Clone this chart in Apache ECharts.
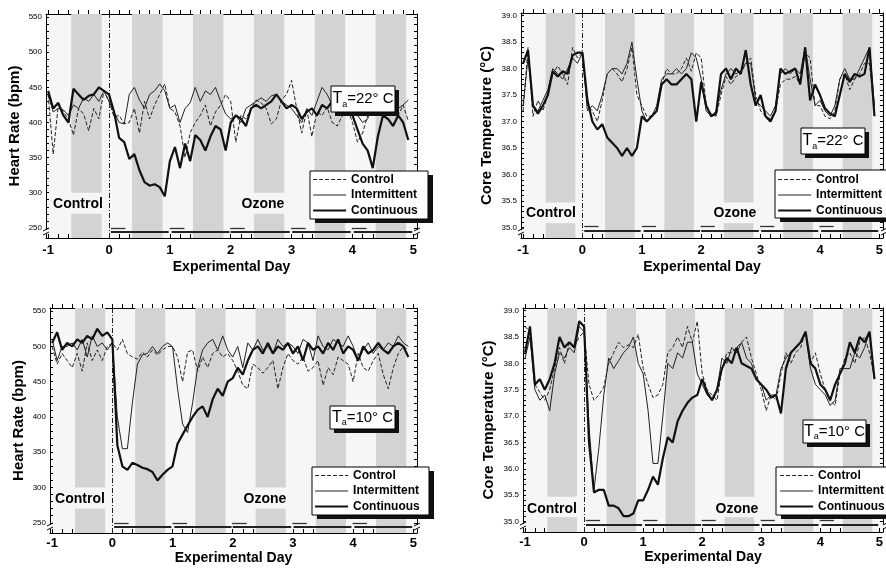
<!DOCTYPE html>
<html>
<head>
<meta charset="utf-8">
<script src="https://cdn.jsdelivr.net/npm/echarts@6/dist/echarts.min.js"></script>
<style>
html, body { margin: 0; background: #fff; }
#chart { width: 886px; height: 571px; }
</style>
</head>
<body>
<div id="chart"></div>
<script>
var font = 'Liberation Sans, Arial, Helvetica, sans-serif';

// sample times: every 2 hours from day -1
var times = [];
for (var i = 0; i < 72; i++) times.push(-1 + i / 12);

// dark periods, exposure periods
var nightStarts = [-0.62, 0.38, 1.38, 2.38, 3.38, 4.38];
var nightLength = 0.5;
var pulseStarts = [0.03, 1.0, 1.99, 2.99, 3.99];
var pulseLength = 0.24;
var continuousRuns = [[0.03, 0.98], [1.03, 1.98], [2.0, 2.97], [3.01, 3.97], [4.02, 4.98]];

var dayLabels = [-1, 0, 1, 2, 3, 4, 5];
var hrLabels = [250, 300, 350, 400, 450, 500, 550];
var tempLabels = [35.0, 35.5, 36.0, 36.5, 37.0, 37.5, 38.0, 38.5, 39.0];

// heart rate, Ta = 22 C
var hr22Control = [
  440, 355, 425, 415, 405, 382, 420, 412, 388, 420, 405, 445,
  430, 408, 410, 398, 400, 420, 385, 430, 405, 425, 440, 455,
  420, 415, 395, 350, 385, 400, 410, 425, 395, 415, 425, 440,
  430, 372, 410, 405, 420, 432, 428, 420, 398, 405, 432, 440,
  460, 420, 385, 418, 380, 415, 410, 422, 400, 395, 410, 420,
  400, 372, 385, 410, 420, 430, 415, 440, 420, 410, 425, 402];
var hr22Inter = [
  440, 415, 420, 418, 410, 425, 420, 435, 430, 440, 430, 445,
  430, 415, 400, 398, 440, 450, 432, 420, 440, 445, 455, 445,
  420, 425, 400, 420, 428, 450, 430, 445, 440, 450, 430, 412,
  405, 410, 400, 420, 425, 430, 435, 430, 438, 440, 430, 425,
  420, 410, 400, 420, 410, 430, 450, 440, 425, 420, 445, 415,
  420, 410, 400, 405, 435, 430, 420, 450, 430, 420, 425, 432];
var hr22Cont = [
  445, 420, 428, 410, 400, 448, 440, 432, 438, 440, 450, 445,
  440, 415, 378, 372, 348, 355, 332, 315, 310, 312, 308, 295,
  345, 365, 335, 370, 345, 382, 375, 360, 380, 395, 390, 360,
  400, 410, 405, 395, 420, 425, 420, 425, 430, 440, 430, 420,
  425, 420, 405, 415, 420, 410, 425, 420, 430, 415, 410, 420,
  410, 390, 370, 360, 335, 380, 410, 405, 395, 410, 400, 375];

// core temperature, Ta = 22 C
var t22Control = [
  37.2, 38.4, 37.1, 37.4, 37.2, 37.5, 37.9, 38.05, 37.9, 37.7, 38.4, 38.2,
  38.3, 37.3, 37.2, 37.0, 37.4, 37.9, 38.0, 37.9, 37.75, 38.0, 38.4, 37.5,
  37.3, 37.1, 37.1, 37.2, 37.7, 38.0, 37.9, 37.9, 38.0, 38.2, 37.95, 38.3,
  38.2, 37.3, 37.15, 37.1, 37.5, 37.85, 37.7, 37.85, 37.9, 38.1, 38.2, 37.5,
  37.2, 37.1, 37.05, 37.2, 37.7, 37.8, 37.8, 37.85, 37.7, 38.3, 38.2, 37.3,
  37.3, 37.1, 37.05, 37.2, 37.8, 37.9, 37.6, 37.8, 37.9, 38.1, 38.1, 37.2];
var t22Inter = [
  37.3, 38.2, 37.3, 37.2, 37.4, 37.6, 38.0, 37.9, 37.8, 38.0, 38.2, 38.1,
  38.3, 37.2, 37.3, 37.2, 37.5, 37.9, 38.0, 38.0, 37.9, 38.1, 38.5, 37.8,
  37.2, 37.0, 37.1, 37.3, 37.8, 37.9, 37.9, 38.0, 37.9, 38.0, 38.3, 38.2,
  37.8, 37.2, 37.1, 37.2, 37.6, 37.9, 38.0, 37.9, 37.95, 38.1, 38.1, 37.4,
  37.3, 37.2, 37.1, 37.3, 37.9, 38.0, 37.9, 38.0, 37.9, 38.4, 37.8, 37.3,
  37.4, 37.2, 37.1, 37.3, 37.8, 38.0, 37.8, 37.8, 38.0, 38.2, 38.4, 37.3];
var t22Cont = [
  38.1, 38.35, 37.3, 37.15, 37.3, 37.5, 37.95, 37.85, 37.95, 37.9, 38.25, 38.3,
  38.3, 37.4, 37.0, 36.85, 36.95, 36.7, 36.6, 36.5, 36.35, 36.5, 36.35, 36.5,
  37.1, 37.0, 37.1, 37.2, 37.7, 37.8, 37.7, 37.7, 37.8, 37.9, 37.8, 37.0,
  37.75, 37.3, 37.1, 37.15, 37.9, 38.0, 37.8, 38.0, 37.9, 38.35, 37.7, 37.3,
  37.5, 37.1, 37.0, 37.2, 38.0, 37.9, 37.95, 38.0, 37.7, 38.4, 37.4, 37.7,
  37.5, 37.25, 37.15, 37.1, 37.5, 37.9, 37.75, 37.9, 37.85, 37.9, 38.4, 37.1];

// heart rate, Ta = 10 C
var hr10Control = [
  500, 475, 490, 480, 470, 490, 465, 505, 480, 495, 480, 500,
  505, 495, 510, 490, 485, 482, 492, 485, 495, 488, 495, 500,
  500, 485, 450, 492, 495, 465, 485, 470, 490, 495, 485, 490,
  480, 465, 445, 440, 475, 470, 462, 470, 480, 440, 470, 490,
  480, 475, 485, 465, 470, 480, 445, 470, 460, 485, 480, 475,
  450, 490, 470, 465, 480, 490, 460, 440, 470, 490, 500, 495];
var hr10Inter = [
  510, 480, 500, 500, 505, 495, 510, 485, 515, 500, 505, 495,
  505, 400, 355, 355, 420, 475, 488, 490, 500, 490, 500, 505,
  500, 440, 390, 378, 420, 470, 495, 505, 510, 495, 515, 495,
  485, 500, 470, 505, 495, 510, 495, 500, 490, 510, 500, 505,
  500, 490, 510, 505, 480, 515, 500, 495, 510, 505, 500, 515,
  500, 480, 495, 505, 490, 500, 495, 505, 500, 515, 505, 500];
var hr10Cont = [
  505, 520, 495, 505, 500, 510, 505, 515, 510, 525, 515, 520,
  510, 360, 330, 325, 335, 332, 328, 326, 322, 310, 318, 325,
  330, 362, 375, 388, 400, 410, 415, 400, 425, 440, 430, 450,
  455, 470, 460, 480, 495, 500, 490, 505, 490, 500, 495, 505,
  490, 500, 480, 505, 495, 500, 490, 505, 495, 510, 490, 500,
  495, 480, 500, 490, 495, 505, 495, 490, 500, 505, 500, 485];

// core temperature, Ta = 10 C
var t10Control = [
  38.7, 38.6, 37.6, 37.45, 37.3, 37.5, 37.9, 38.3, 38.0, 38.4, 38.3, 38.5,
  38.6, 37.6, 37.3, 37.4, 37.55, 38.0, 38.2, 38.4, 38.3, 38.35, 38.3, 38.55,
  37.9, 37.6, 37.35, 37.4, 37.6, 38.2, 38.3, 38.5, 38.3, 38.7, 38.4, 38.8,
  37.8, 37.5, 37.4, 37.3, 37.9, 38.2, 38.2, 38.3, 38.4, 38.5, 38.1, 37.8,
  37.5, 37.1, 37.4, 37.3, 37.8, 38.2, 38.0, 38.2, 38.3, 38.6, 38.0, 38.2,
  37.8, 37.5, 37.3, 37.2, 37.8, 38.1, 38.2, 38.0, 38.4, 38.5, 38.2, 37.7];
var t10Inter = [
  38.1, 38.5, 37.5, 37.3, 37.4, 37.1, 37.8, 38.2, 38.1, 38.3, 38.2, 38.7,
  38.6, 36.8, 35.6, 36.4, 37.4, 38.1, 37.9, 38.05, 38.2, 38.3, 38.5, 38.0,
  37.8, 37.1, 36.1, 36.1, 37.0, 38.0, 37.9, 38.2, 38.1, 38.4, 38.4, 37.8,
  37.6, 37.4, 37.3, 37.5, 38.1, 38.0, 38.3, 38.2, 38.4, 38.1, 38.0, 37.7,
  37.6, 37.3, 37.4, 37.4, 37.9, 38.1, 38.2, 38.3, 38.4, 38.6, 37.9, 37.6,
  37.5, 37.4, 37.2, 37.3, 37.9, 37.9, 37.9, 38.2, 38.1, 38.3, 38.6, 37.7];
var t10Cont = [
  38.2, 38.7, 37.6, 37.7, 37.5, 37.7, 38.0, 38.5, 38.3, 38.4, 38.3, 38.8,
  38.7, 36.5, 35.55, 35.6, 35.6, 35.3, 35.3, 35.25, 35.1, 35.1, 35.15, 35.4,
  35.4, 35.6, 35.85, 35.7, 36.2, 36.6, 36.5, 36.9, 37.1, 37.25, 37.35, 37.4,
  37.7, 37.45, 37.3, 37.5, 37.9, 38.1, 38.0, 38.3, 38.0, 37.95, 37.9, 37.7,
  37.6, 37.5, 37.35, 37.4, 37.05, 37.9, 38.2, 38.3, 38.4, 38.6, 38.0, 37.9,
  37.6, 37.5, 37.3, 37.6, 37.8, 38.0, 38.4, 38.2, 38.5, 38.4, 38.6, 37.7];

var seriesNames = ['Control', 'Intermittent', 'Continuous'];

// layout of the four panels
var panels = [
  { kind: 'hr', ta: '22', values: [hr22Control, hr22Inter, hr22Cont],
    grid: { left: 46, top: 14, width: 371, height: 224 },
    labelMargin: 6, xNameGap: 22, yNameGap: 24,
    taBox: [331, 86, 64, 26], legendBox: [310, 171, 118, 48], legendAt: [312, 173],
    controlText: [78, 204], ozoneText: [263, 204] },
  { kind: 't', ta: '22', values: [t22Control, t22Inter, t22Cont],
    grid: { left: 521, top: 13, width: 363, height: 225 },
    labelMargin: 6, xNameGap: 22, yNameGap: 27,
    taBox: [801, 128, 64, 26], legendBox: [775, 170, 118, 48], legendAt: [777, 173],
    controlText: [551, 213], ozoneText: [735, 213] },
  { kind: 'hr', ta: '10', values: [hr10Control, hr10Inter, hr10Cont],
    grid: { left: 50, top: 308, width: 367, height: 225 },
    labelMargin: 4, xNameGap: 18, yNameGap: 24,
    taBox: [330, 406, 65, 23], legendBox: [312, 467, 117, 48], legendAt: [314, 469],
    controlText: [80, 499], ozoneText: [265, 499] },
  { kind: 't', ta: '10', values: [t10Control, t10Inter, t10Cont],
    grid: { left: 523, top: 308, width: 363, height: 224 },
    labelMargin: 4, xNameGap: 18, yNameGap: 27,
    taBox: [803, 420, 63, 23], legendBox: [776, 467, 118, 48], legendAt: [779, 469],
    controlText: [552, 509], ozoneText: [737, 509] }
];

var ranges = {
  hr: { min: 235.5, max: 554.5, gap: [270, 300], pulse: 250, run: 244, name: 'Heart Rate (bpm)',
        labels: hrLabels, step: 10, from: 250, to: 550, fmt: function (v) { return String(v); } },
  t: { min: 34.8, max: 39.05, gap: [35.08, 35.47], pulse: 35.02, run: 34.93, name: 'Core Temperature (\u00B0C)',
       labels: tempLabels, step: 0.1, from: 35, to: 39, fmt: function (v) { return v.toFixed(1); } }
};

function stepValues(from, to, step) {
  var out = [];
  var n = Math.round((to - from) / step);
  for (var k = 0; k <= n; k++) out.push(+(from + k * step).toFixed(4));
  return out;
}
var dayTicks = stepValues(-1, 5, 1 / 6);

var lineStyles = [
  { color: '#222', width: 1, type: [4, 2] },
  { color: '#222', width: 1, type: 'solid' },
  { color: '#111', width: 2.2, type: 'solid' }
];

var grids = [], xAxes = [], yAxes = [], series = [], legends = [], graphics = [];

panels.forEach(function (p, idx) {
  var r = ranges[p.kind];
  grids.push(Object.assign({ show: true, backgroundColor: '#f6f6f6', borderWidth: 0 }, p.grid));

  var axisLine = { show: true, onZero: false, lineStyle: { color: '#000', width: 1 } };
  xAxes[idx] = {
    type: 'value', gridIndex: idx, min: -1.035, max: 5.06, position: 'bottom',
    axisLine: axisLine, splitLine: { show: false },
    axisTick: { inside: true, length: 4, customValues: dayTicks, lineStyle: { color: '#000' } },
    axisLabel: { customValues: dayLabels, margin: p.labelMargin, color: '#000',
                 fontFamily: font, fontWeight: 'bold', fontSize: 13 },
    name: 'Experimental Day', nameLocation: 'middle', nameGap: p.xNameGap,
    nameTextStyle: { fontFamily: font, fontWeight: 'bold', fontSize: 14, color: '#000' }
  };
  xAxes[idx + 4] = {
    type: 'value', gridIndex: idx, min: -1.035, max: 5.06, position: 'top',
    axisLine: axisLine, splitLine: { show: false },
    axisTick: { inside: false, length: 4, customValues: dayTicks, lineStyle: { color: '#000' } },
    axisLabel: { show: false }
  };
  var yTicks = stepValues(r.from, r.to, r.step);
  yAxes[idx] = {
    type: 'value', gridIndex: idx, min: r.min, max: r.max, position: 'left',
    axisLine: axisLine, splitLine: { show: false },
    axisTick: { inside: true, length: 3, customValues: yTicks, lineStyle: { color: '#000' } },
    axisLabel: { customValues: r.labels, formatter: r.fmt, margin: 4, color: '#000',
                 fontFamily: font, fontSize: 8 },
    name: r.name, nameLocation: 'middle', nameGap: p.yNameGap,
    nameTextStyle: { fontFamily: font, fontWeight: 'bold', fontSize: 15, color: '#000' }
  };
  yAxes[idx + 4] = {
    type: 'value', gridIndex: idx, min: r.min, max: r.max, position: 'right',
    axisLine: axisLine, splitLine: { show: false },
    axisTick: { inside: true, length: 3, customValues: yTicks, lineStyle: { color: '#000' } },
    axisLabel: { show: false }
  };

  // dark-period bands, exposure bars and the day-0 line
  var areas = [];
  nightStarts.forEach(function (s) {
    var e = s + nightLength;
    if (s === -0.62 || s === 2.38) {
      areas.push([{ xAxis: s, yAxis: r.gap[1] }, { xAxis: e, yAxis: r.max }]);
      areas.push([{ xAxis: s, yAxis: r.min }, { xAxis: e, yAxis: r.gap[0] }]);
    } else {
      areas.push([{ xAxis: s }, { xAxis: e }]);
    }
  });
  var marks = [{ xAxis: 0, lineStyle: { type: [5, 2, 1, 2], width: 1, color: '#222' } }];
  pulseStarts.forEach(function (s) {
    marks.push([{ coord: [s, r.pulse], lineStyle: { width: 1.3, color: '#333', type: 'solid' } },
                { coord: [s + pulseLength, r.pulse] }]);
  });
  continuousRuns.forEach(function (run) {
    marks.push([{ coord: [run[0], r.run], lineStyle: { width: 2, color: '#222', type: 'solid' } },
                { coord: [run[1], r.run] }]);
  });
  series.push({
    type: 'line', xAxisIndex: idx, yAxisIndex: idx, data: [], z: 1, silent: true,
    markArea: { silent: true, itemStyle: { color: '#d3d3d3' }, data: areas },
    markLine: { silent: true, symbol: 'none', label: { show: false }, data: marks }
  });

  p.values.forEach(function (vals, k) {
    series.push({
      name: seriesNames[k], type: 'line', xAxisIndex: idx, yAxisIndex: idx,
      symbol: 'none', z: 3 + k, animation: false,
      itemStyle: { color: lineStyles[k].color },
      lineStyle: lineStyles[k],
      data: times.map(function (t, j) { return [t, vals[j]]; })
    });
  });

  legends.push({
    data: seriesNames.map(function (n, k) {
      return { name: n, lineStyle: { color: lineStyles[k].color, width: lineStyles[k].width, type: lineStyles[k].type } };
    }),
    orient: 'vertical', left: p.legendAt[0], top: p.legendAt[1],
    itemWidth: 33, itemHeight: 10, itemGap: 2.5, padding: 0, z: 20, selectedMode: false,
    itemStyle: { opacity: 0, borderWidth: 0 },
    textStyle: { fontFamily: font, fontWeight: 'bold', fontSize: 12, color: '#000', lineHeight: 13 }
  });

  var lb = p.legendBox;
  graphics.push({ type: 'rect', z: 10, shape: { x: lb[0] + 5, y: lb[1] + 4, width: lb[2], height: lb[3] }, style: { fill: '#111' } });
  graphics.push({ type: 'rect', z: 11, shape: { x: lb[0], y: lb[1], width: lb[2], height: lb[3] }, style: { fill: '#fff', stroke: '#000', lineWidth: 1 } });

  var tb = p.taBox;
  graphics.push({ type: 'rect', z: 10, shape: { x: tb[0] + 4, y: tb[1] + 4, width: tb[2], height: tb[3] }, style: { fill: '#111' } });
  graphics.push({ type: 'rect', z: 11, shape: { x: tb[0], y: tb[1], width: tb[2], height: tb[3] }, style: { fill: '#fff', stroke: '#000', lineWidth: 1 } });
  graphics.push({
    type: 'text', z: 12, x: tb[0] + tb[2] / 2, y: tb[1] + tb[3] / 2,
    style: {
      text: '{t|T}{s|a}{n|=' + p.ta + '\u00B0 C}', align: 'center', verticalAlign: 'middle',
      rich: {
        t: { fontFamily: font, fontSize: 16, fill: '#000', lineHeight: 20, verticalAlign: 'middle' },
        s: { fontFamily: font, fontSize: 9, fill: '#000', lineHeight: 20, verticalAlign: 'bottom', padding: [0, 0, 0, 0] },
        n: { fontFamily: font, fontSize: 15, fill: '#000', lineHeight: 20, verticalAlign: 'middle' }
      }
    }
  });

  ['Control', 'Ozone'].forEach(function (txt, k) {
    var pos = k === 0 ? p.controlText : p.ozoneText;
    graphics.push({
      type: 'text', z: 12, x: pos[0], y: pos[1],
      style: { text: txt, fontFamily: font, fontWeight: 'bold', fontSize: 14, fill: '#000', align: 'center', verticalAlign: 'middle' }
    });
  });

  // axis break marks at the foot of both vertical axes
  var by = p.grid.top + p.grid.height - 6;
  [p.grid.left, p.grid.left + p.grid.width].forEach(function (bx) {
    graphics.push({ type: 'rect', z: 12, shape: { x: bx - 3, y: by - 2, width: 6, height: 4 }, style: { fill: '#fff' } });
    graphics.push({ type: 'line', z: 13, shape: { x1: bx - 3, y1: by - 1, x2: bx + 3, y2: by - 4 }, style: { stroke: '#000', lineWidth: 1 } });
    graphics.push({ type: 'line', z: 13, shape: { x1: bx - 3, y1: by + 3, x2: bx + 3, y2: by }, style: { stroke: '#000', lineWidth: 1 } });
  });
});

var chart = echarts.init(document.getElementById('chart'), null, { renderer: 'canvas' });
chart.setOption({
  animation: false,
  backgroundColor: '#fff',
  grid: grids,
  xAxis: xAxes,
  yAxis: yAxes,
  legend: legends,
  graphic: { elements: graphics },
  series: series
});
</script>
</body>
</html>
